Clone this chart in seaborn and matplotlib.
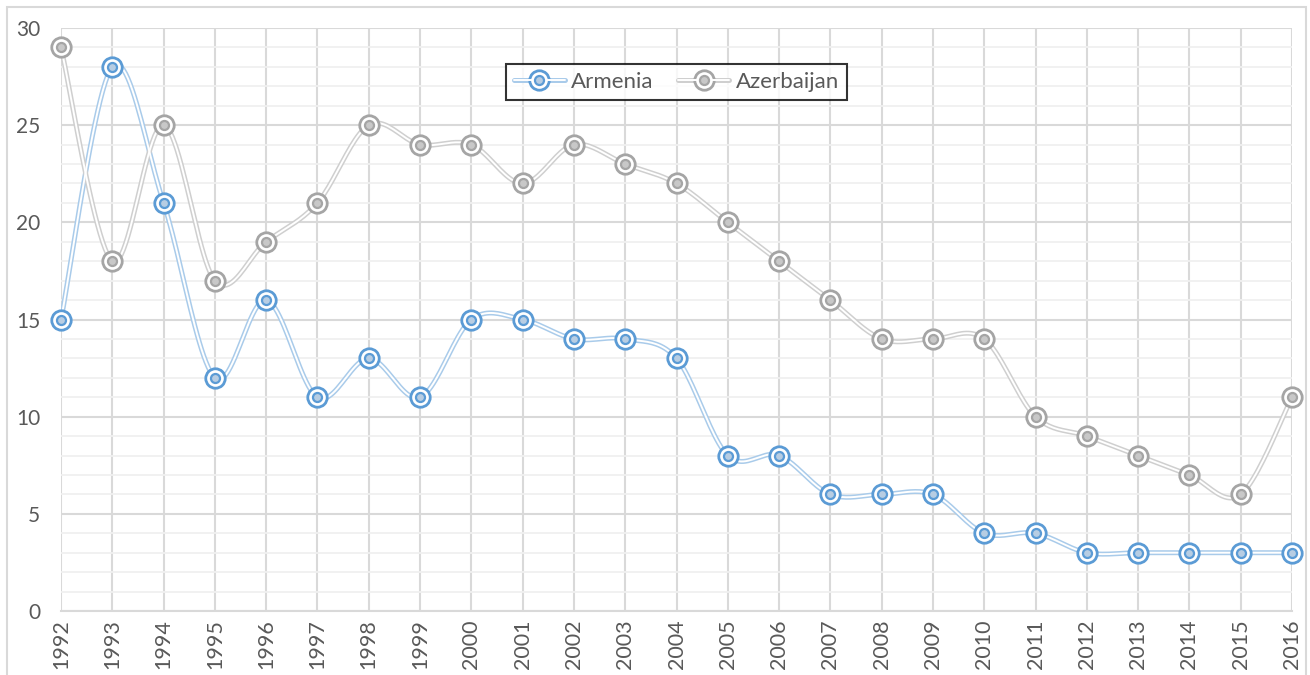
import numpy as np
import pandas as pd
import matplotlib.pyplot as plt
import seaborn as sns
from matplotlib.lines import Line2D
from matplotlib.patches import Rectangle
from matplotlib.legend_handler import HandlerTuple

# DATA
years = list(range(1992, 2017))
armenia = [15, 28, 21, 12, 16, 11, 13, 11, 15, 15, 14, 14, 13,
           8, 8, 6, 6, 6, 4, 4, 3, 3, 3, 3, 3]
azerbaijan = [29, 18, 25, 17, 19, 21, 25, 24, 24, 22, 24, 23, 22,
              20, 18, 16, 14, 14, 14, 10, 9, 8, 7, 6, 11]

# STYLE
sns.set_theme(style="white")
plt.rcParams['font.family'] = ['Lato', 'DejaVu Sans']
TEXT = '#595959'
GRID = '#D9D9D9'
MINOR = '#F0F0F0'
series = [
    ('Armenia', armenia, '#5B9BD5', '#A9CBEA', '#B7CDE3'),
    ('Azerbaijan', azerbaijan, '#A5A5A5', '#CFCFCF', '#C8C8C8'),
]


def smooth(x, y, n=24):
    # excel-like smoothed line: bezier segments with catmull-rom control points
    x = np.asarray(x, float)
    y = np.asarray(y, float)
    px = np.concatenate([[x[0]], x, [x[-1]]])
    py = np.concatenate([[y[0]], y, [y[-1]]])
    xs, ys = [], []
    t = np.linspace(0, 1, n)
    for i in range(1, len(px) - 2):
        p0 = np.array([px[i], py[i]])
        p3 = np.array([px[i + 1], py[i + 1]])
        p1 = p0 + (np.array([px[i + 1], py[i + 1]]) - np.array([px[i - 1], py[i - 1]])) / 6
        p2 = p3 - (np.array([px[i + 2], py[i + 2]]) - np.array([px[i], py[i]])) / 6
        b = (((1 - t) ** 3)[:, None] * p0 + (3 * (1 - t) ** 2 * t)[:, None] * p1
             + (3 * (1 - t) * t ** 2)[:, None] * p2 + (t ** 3)[:, None] * p3)
        xs.extend(b[:, 0])
        ys.extend(b[:, 1])
    return pd.DataFrame({'x': xs, 'y': ys})


fig = plt.figure(figsize=(13.1, 6.75), dpi=100)
ax = fig.add_axes([61 / 1310, 1 - 611 / 675, (1292 - 61) / 1310, (611 - 28) / 675])
fig.patches.append(Rectangle((7 / 1310, -0.05), 1299 / 1310, 1.05 - 7 / 675, transform=fig.transFigure,
                             fill=False, edgecolor=GRID, linewidth=1.5))

handles = []
for name, vals, col, light, inner in series:
    curve = smooth(years, vals)
    sns.lineplot(data=curve, x='x', y='y', sort=False, estimator=None, ax=ax,
                 color=light, linewidth=3.6, zorder=3)
    sns.lineplot(data=curve, x='x', y='y', sort=False, estimator=None, ax=ax,
                 color='white', linewidth=1.4, zorder=4)
    ax.plot(years, vals, linestyle='none', marker='o', markersize=14, markerfacecolor='white',
            markeredgecolor=col, markeredgewidth=2.0, zorder=5, clip_on=False)
    ax.plot(years, vals, linestyle='none', marker='o', markersize=6.5, markerfacecolor=inner,
            markeredgecolor=col, markeredgewidth=1.6, zorder=6, clip_on=False)
    h1 = Line2D([], [], color=light, lw=3.6, marker='o', ms=14, mfc='white', mec=col, mew=2.0)
    h2 = Line2D([], [], color='white', lw=1.4, marker='o', ms=6.5, mfc=inner, mec=col, mew=1.6)
    handles.append((h1, h2))

ax.set_xlim(1992, 2016)
ax.set_ylim(0, 30)
ax.set_xticks(years)
ax.set_xticklabels([str(y) for y in years], rotation=90, fontsize=15.5, color=TEXT)
ax.set_yticks(range(0, 31, 5))
ax.set_yticks(range(0, 31, 1), minor=True)
ax.set_yticklabels([str(v) for v in range(0, 31, 5)], fontsize=15, color=TEXT)
ax.tick_params(axis='both', which='both', length=0)
ax.tick_params(axis='y', pad=15)
ax.tick_params(axis='x', pad=6)
ax.grid(True, which='major', axis='both', color=GRID, linewidth=1.5, zorder=0)
ax.grid(True, which='minor', axis='y', color=MINOR, linewidth=1.3, zorder=0)
ax.set_axisbelow(True)
for side in ['left', 'top', 'right']:
    ax.spines[side].set_visible(False)
ax.spines['bottom'].set_color(GRID)
ax.spines['bottom'].set_linewidth(1.5)
ax.set_xlabel('')
ax.set_ylabel('')

leg = ax.legend(handles, [s[0] for s in series], handler_map={tuple: HandlerTuple(ndivide=1)},
                loc='upper center', bbox_to_anchor=(0.5, 0.938), ncol=2, fontsize=16,
                frameon=True, fancybox=False, handlelength=2.3, columnspacing=1.1,
                borderpad=0.35, borderaxespad=0.0, handletextpad=0.3, labelcolor=TEXT)
leg.get_frame().set_edgecolor('black')
leg.get_frame().set_linewidth(1.5)
leg.set_zorder(10)

plt.savefig('out.png', dpi=100)
plt.close()
